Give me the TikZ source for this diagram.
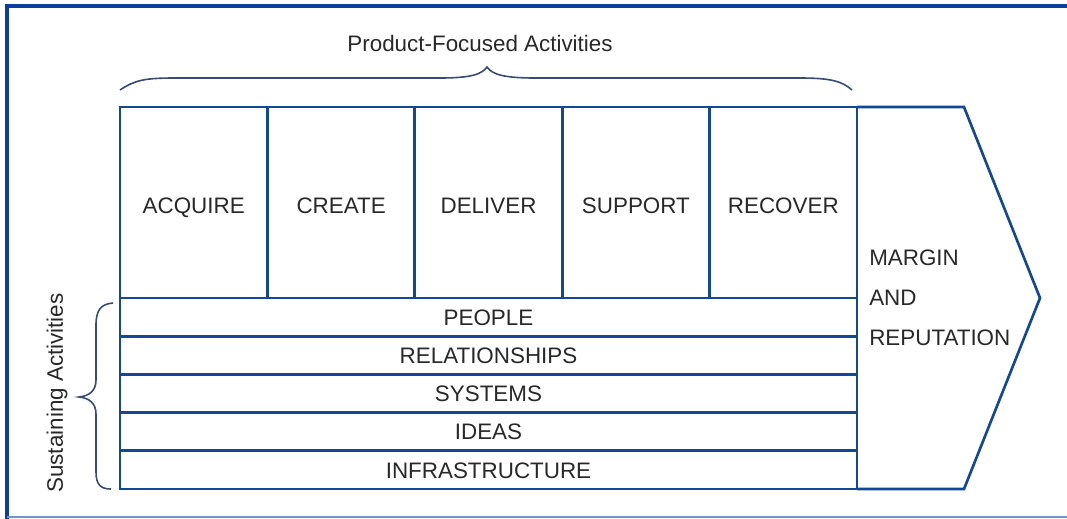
\documentclass[tikz,border=0pt]{standalone}
\usepackage{fontspec}
\setmainfont{Liberation Sans}
\definecolor{boxblue}{RGB}{18,72,150}
\definecolor{framedark}{RGB}{10,62,160}
\definecolor{framelight}{RGB}{110,150,205}
\definecolor{bracecol}{RGB}{55,75,115}
\definecolor{txt}{RGB}{40,40,40}
\begin{document}
\begin{tikzpicture}[x=0.75pt,y=-0.75pt,
  lbl/.style={text=txt,font=\fontsize{16.8}{19}\selectfont,inner sep=0pt},
  actbox/.style={draw=boxblue,line width=2pt,minimum width=110.55pt,minimum height=143.25pt,
    inner sep=0pt,text=txt,font=\fontsize{16.8}{19}\selectfont,text height=16.5pt,text depth=0pt},
  rowbox/.style={draw=boxblue,line width=2pt,minimum width=552.75pt,minimum height=28.65pt,
    inner sep=0pt,text=txt,font=\fontsize{16.8}{19}\selectfont,text height=12.3pt,text depth=0pt},
  brace/.style={draw=bracecol,line width=1.2pt},
  margin/.style={draw=boxblue,line width=2pt,line join=miter}]
\useasboundingbox (0,0) rectangle (1067,518);

% outer frame
\draw[framedark,line width=2.6pt] (7,520) -- (7,6) -- (1070,6);
\draw[framelight,line width=1.2pt] (7,517) -- (1070,517);

% value arrow behind the activity blocks
\draw[margin] (857,107) -- (964,107) -- (1040,298) -- (964,489) -- (857,489);

% product-focused activities
\node[actbox] (acq) at (193.7,202.5) {ACQUIRE};
\node[actbox] (cre) at (341.1,202.5) {CREATE};
\node[actbox] (del) at (488.5,202.5) {DELIVER};
\node[actbox] (sup) at (635.9,202.5) {SUPPORT};
\node[actbox] (rec) at (783.3,202.5) {RECOVER};

% sustaining activities
\node[rowbox] (peo) at (488.5,317.1) {PEOPLE};
\node[rowbox] (rel) at (488.5,355.3) {RELATIONSHIPS};
\node[rowbox] (sys) at (488.5,393.5) {SYSTEMS};
\node[rowbox] (ide) at (488.5,431.7) {IDEAS};
\node[rowbox] (inf) at (488.5,469.9) {INFRASTRUCTURE};

% margin text
\node[lbl,anchor=west] (mar) at (869,258) {MARGIN};
\node[lbl,anchor=west] (and) at (869,298) {AND};
\node[lbl,anchor=west] (rep) at (869,338) {REPUTATION};

% top brace and title
\draw[brace] (120,90) .. controls (135,80) and (145,78) .. (175,78) -- (440,78)
  .. controls (472,78) and (482,74) .. (487,67)
  .. controls (492,74) and (502,78) .. (535,78) -- (800,78)
  .. controls (830,78) and (842,81) .. (852,90);
\node[lbl] (pfa) at (480,43) {Product-Focused Activities};

% left brace and label
\draw[brace] (113,303) .. controls (101,304) and (96,310) .. (96,325) -- (96,380)
  .. controls (96,391) and (89,396) .. (79,397)
  .. controls (89,398) and (96,403) .. (96,414) -- (96,472)
  .. controls (96,485) and (101,489) .. (111,489);
\node[lbl,rotate=90] (sa) at (57,393) {Sustaining Activities};
\end{tikzpicture}
\end{document}
